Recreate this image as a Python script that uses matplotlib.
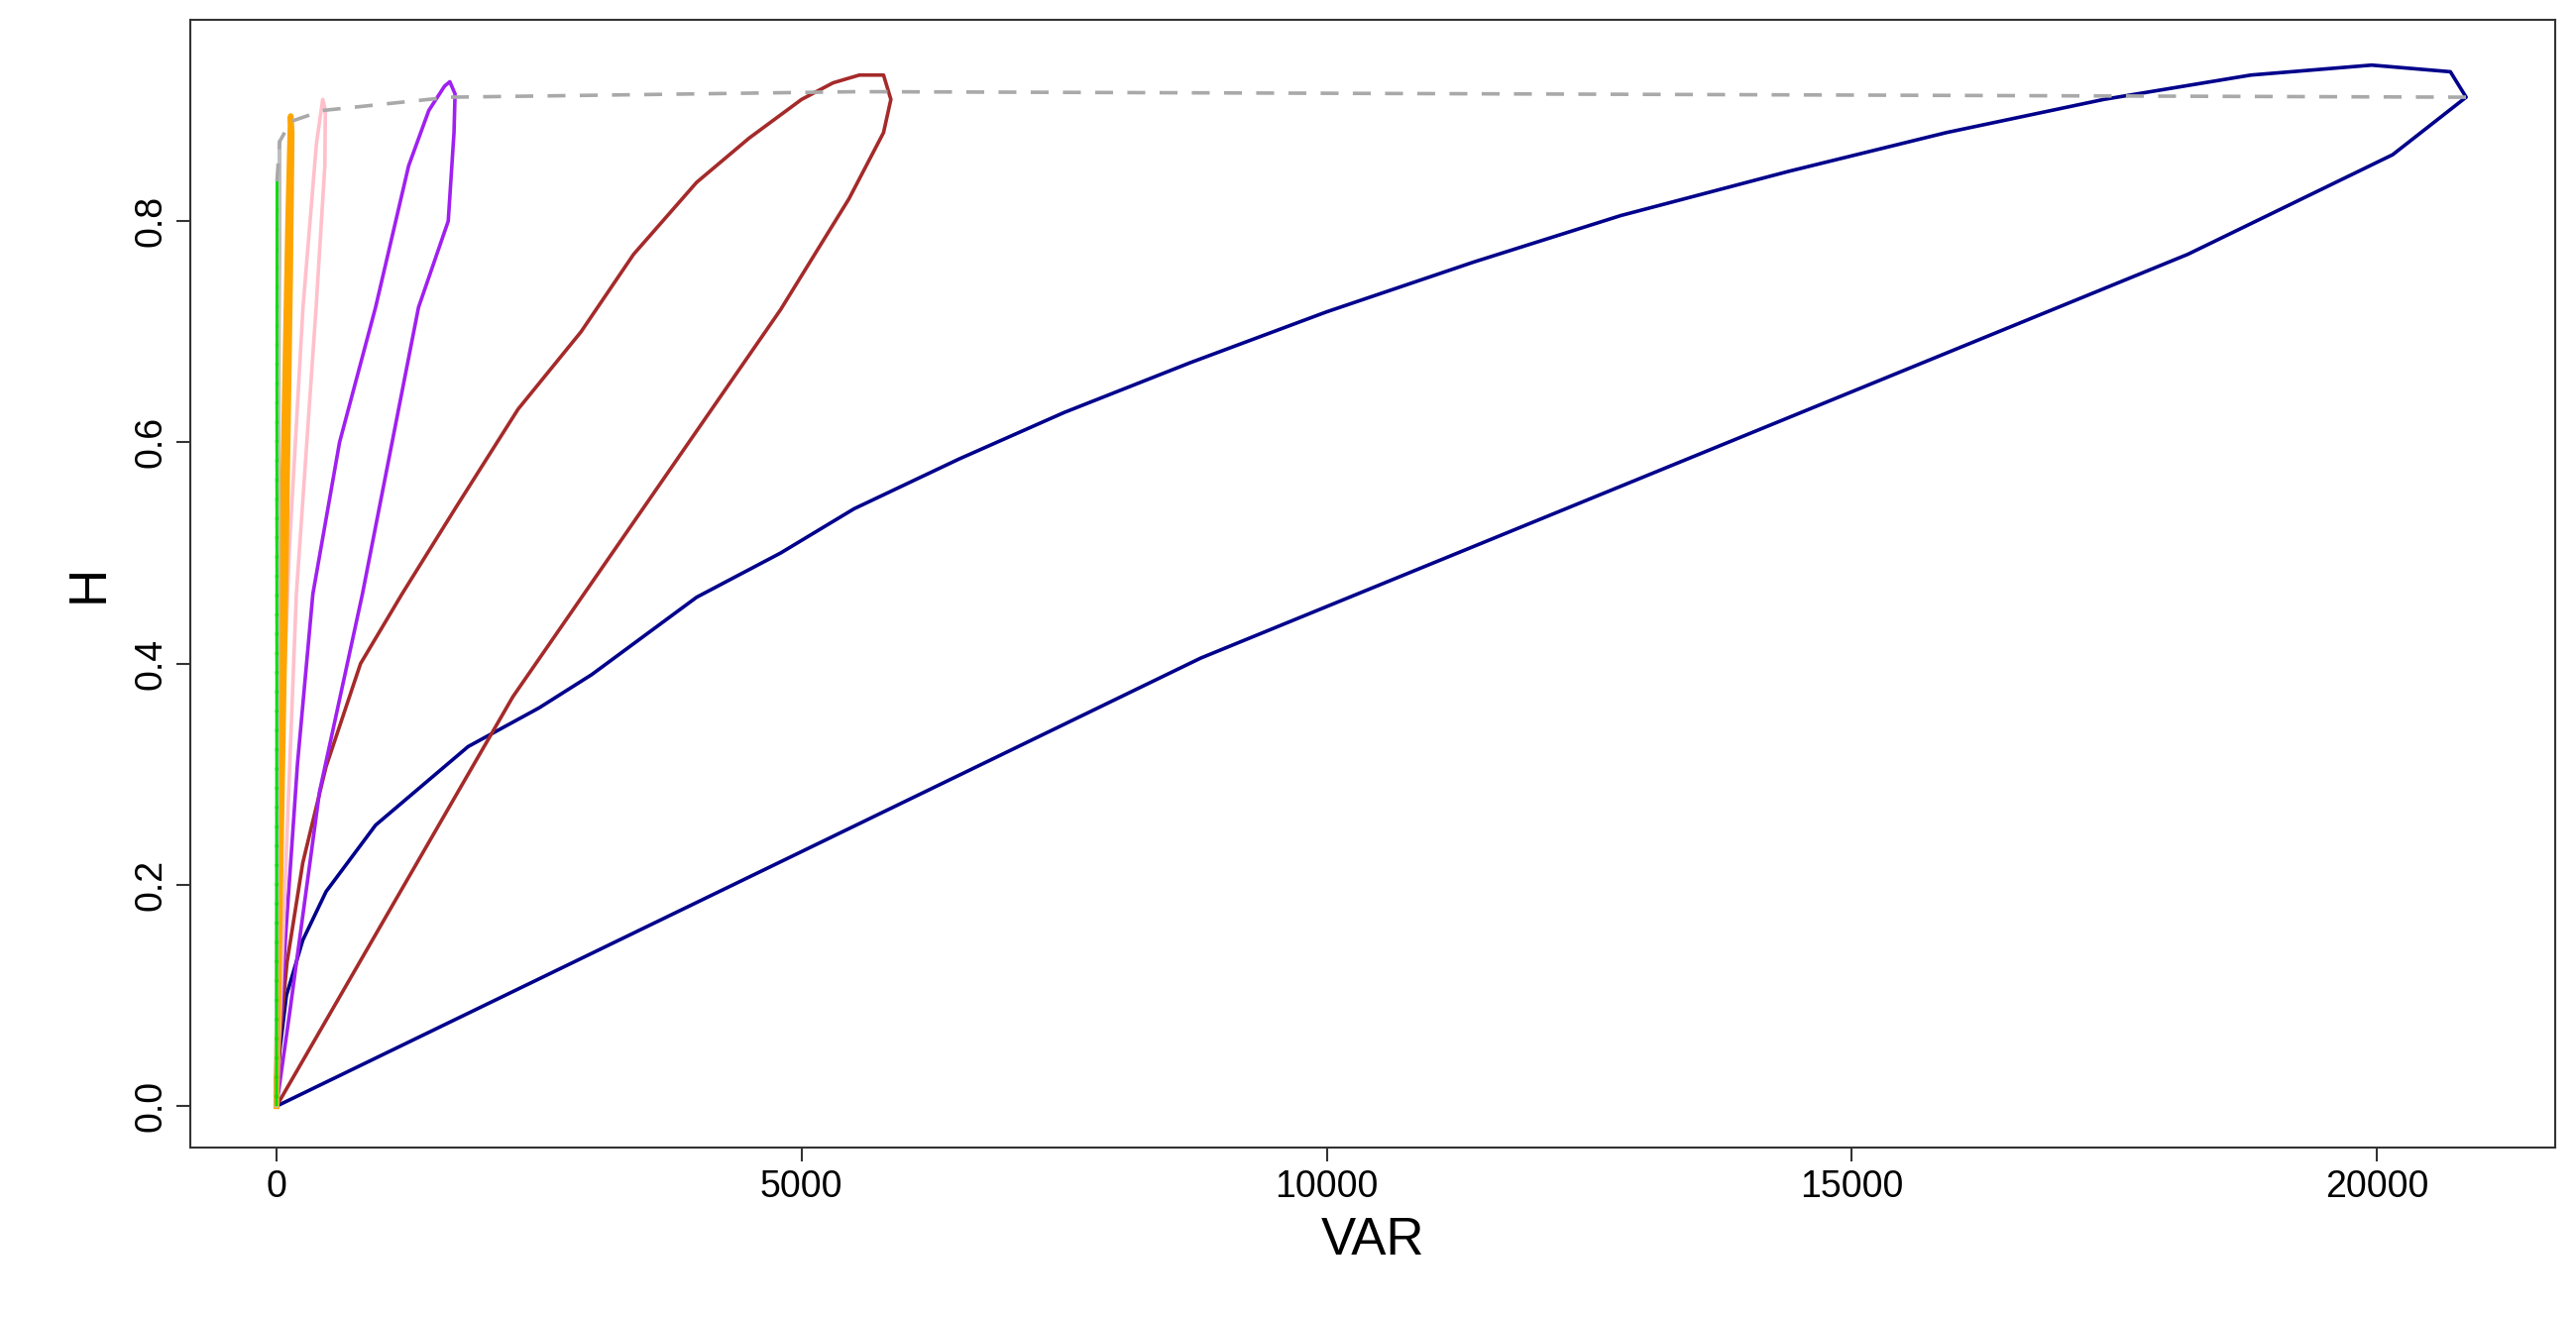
import matplotlib
matplotlib.use("Agg")
import matplotlib.pyplot as plt

navy_x = [0,30,94,250,472,943,1824,2500,3000,3500,4000,4800,5500,6500,7500,8700,10000,11400,12800,14400,15900,17400,18800,19950,20700,20850,20150,18200,8800,0]
navy_y = [0,0.05,0.10,0.15,0.194,0.254,0.325,0.36,0.39,0.425,0.46,0.50,0.54,0.585,0.627,0.672,0.718,0.763,0.805,0.845,0.88,0.91,0.932,0.941,0.935,0.912,0.86,0.77,0.405,0]
brown_x = [0,30,100,250,472,800,1195,1700,2300,2900,3400,4000,4500,5000,5300,5550,5780,5850,5780,5450,4800,2250,0]
brown_y = [0,0.06,0.13,0.22,0.307,0.40,0.463,0.54,0.63,0.70,0.77,0.835,0.875,0.91,0.925,0.932,0.932,0.91,0.88,0.82,0.72,0.37,0]
purple_x = [0,30,94,200,346,600,943,1258,1450,1600,1650,1700,1690,1635,1352,818,409,126,0]
purple_y = [0,0.07,0.164,0.31,0.463,0.6,0.722,0.85,0.9,0.922,0.926,0.915,0.88,0.8,0.722,0.463,0.284,0.085,0]
pink_x = [0,40,120,252,380,440,465,460,377,189,0]
pink_y = [0,0.3,0.5,0.722,0.87,0.91,0.9,0.85,0.722,0.463,0]
orange_x = [0,50,110,135,145,130,90,0]
orange_y = [0,0.5,0.8,0.895,0.88,0.75,0.5,0]
gray_x = [0,10,25,30,28,15,0]
gray_y = [0,0.5,0.8,0.872,0.8,0.4,0]
green_x = [0,2,4,3,0]
green_y = [0,0.6,0.836,0.7,0]
env_x = [4,30,135,440,1650,5550,20850]
env_y = [0.836,0.872,0.89,0.90,0.912,0.917,0.912]

plt.rcParams['font.family'] = ['Liberation Sans', 'DejaVu Sans']
fig = plt.figure(figsize=(25.99,13.29), dpi=100)
ax = fig.add_axes([0.074,0.129,0.918,0.856])
lw = 2.6
ax.plot(navy_x, navy_y, color="#00008B", lw=lw)
ax.plot(brown_x, brown_y, color="#A52A2A", lw=lw)
ax.plot(purple_x, purple_y, color="#A020F0", lw=lw)
ax.plot(pink_x, pink_y, color="#FFC0CB", lw=lw)
ax.plot(orange_x, orange_y, color="#FFA500", lw=lw+1.5)
ax.plot(gray_x, gray_y, color="#BEBEBE", lw=lw)
ax.plot(green_x, green_y, color="#00DD00", lw=lw-0.6, ls=(0,(4,3)))
ax.plot(env_x, env_y, color="#A9A9A9", lw=lw, ls=(0,(5,4)))
ax.set_xlim(-818, 21700)
ax.set_ylim(-0.037, 0.982)
ax.set_xticks([0,5000,10000,15000,20000])
ax.set_yticks([0,0.2,0.4,0.6,0.8])
ax.set_yticklabels(["0.0","0.2","0.4","0.6","0.8"], rotation=90, va="center")
ax.tick_params(labelsize=27, length=10, width=1.5, color="#333333", pad=6)
for s in ax.spines.values():
    s.set_linewidth(1.5); s.set_color("#333333")
ax.set_xlabel("VAR", fontsize=38, labelpad=8)
ax.set_ylabel("H", fontsize=38, labelpad=14)
fig.savefig("out.png", dpi=100)
